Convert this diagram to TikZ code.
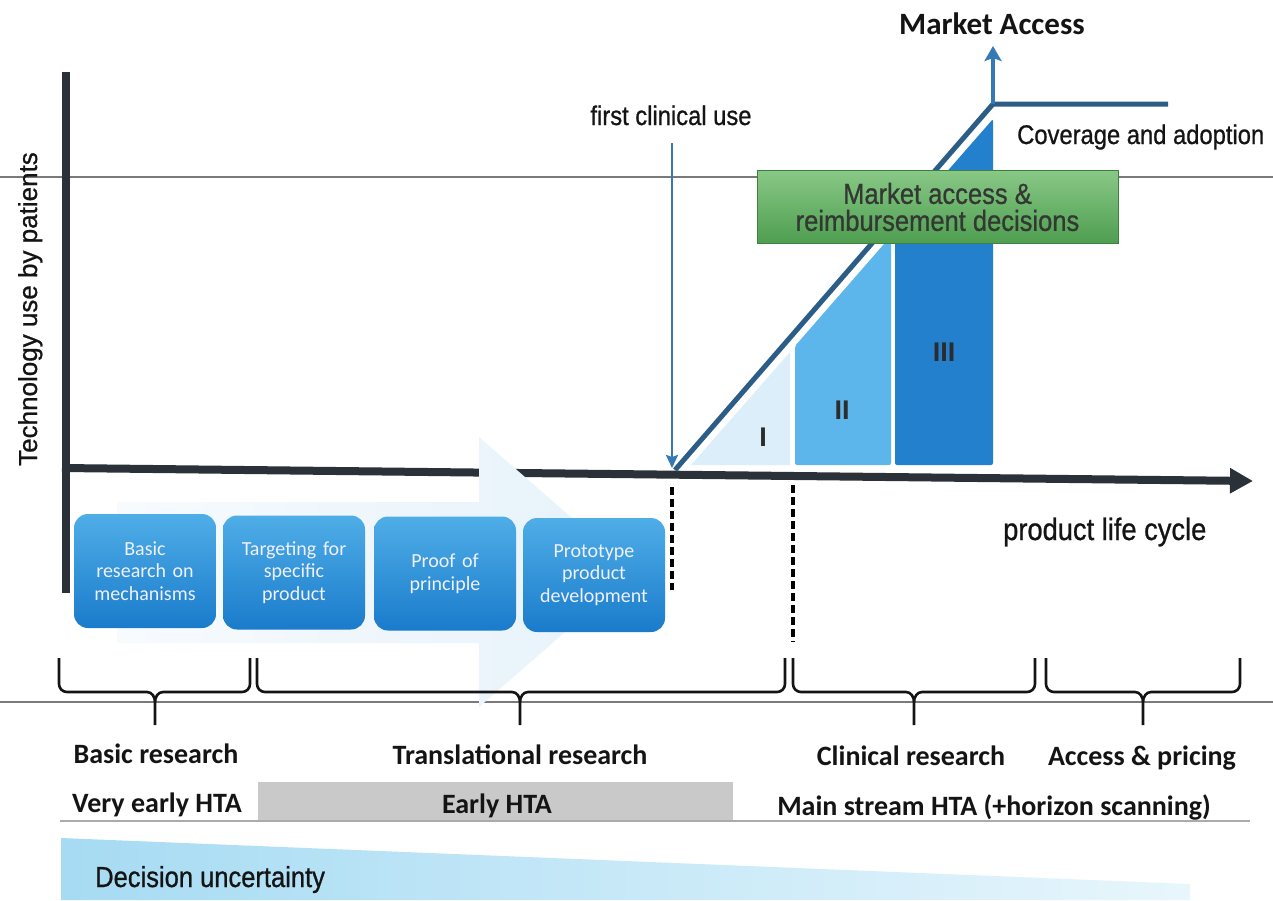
\documentclass[tikz,border=0pt]{standalone}
\usepackage{fontspec}
\setmainfont{Liberation Sans}
\newfontfamily\calfont{Carlito}
\newfontfamily\arialnarrow[FakeStretch=0.88, FakeBold=0.8]{Liberation Sans}
\newfontfamily\arialheavy[FakeBold=0.8]{Liberation Sans}
\usetikzlibrary{arrows.meta}

\definecolor{axisdark}{HTML}{2B3138}
\definecolor{steel}{HTML}{2C5D87}
\definecolor{arrowblue}{HTML}{3579B5}
\definecolor{phaseI}{HTML}{DCEEFA}
\definecolor{phaseII}{HTML}{5CB5EB}
\definecolor{phaseIII}{HTML}{2280CD}
\definecolor{boxtop}{HTML}{4FAEE7}
\definecolor{boxbot}{HTML}{1A7BCB}
\definecolor{greentop}{HTML}{88C886}
\definecolor{greenbot}{HTML}{4E9E50}
\definecolor{greenedge}{HTML}{3F7F40}
\definecolor{flowL}{HTML}{F7FBFE}
\definecolor{flowR}{HTML}{E6F2FA}
\definecolor{wedgeL}{HTML}{A6DBF3}
\definecolor{wedgeR}{HTML}{E8F6FC}
\definecolor{htagray}{HTML}{C9C9C9}
\definecolor{guidegray}{HTML}{7A7A7A}
\definecolor{inkdark}{HTML}{141414}
\definecolor{greentext}{HTML}{333833}

% curly bracket: left end, right end, tip position
\newcommand{\stagebracket}[3]{%
  \draw[bracket] (#1,658) -- (#1,684) to[out=-90,in=180] (#1+8,692) -- (#3-8,692)
    to[out=0,in=90] (#3,702) -- (#3,725);
  \draw[bracket] (#3,702) to[out=90,in=180] (#3+8,692) -- (#2-8,692)
    to[out=0,in=-90] (#2,684) -- (#2,658);}

\begin{document}
\begin{tikzpicture}[x=1pt,y=-1pt,
  guide/.style={draw=guidegray, line width=1.2pt},
  axisline/.style={draw=axisdark, line width=8pt},
  curve/.style={draw=steel, line width=5pt, line join=miter},
  uparrow/.style={draw=arrowblue, line width=4pt, -{Stealth[length=15pt,width=17pt,inset=3pt]}},
  fcuarrow/.style={draw=arrowblue, line width=2.2pt, -{Stealth[length=13pt,width=12pt,inset=2pt]}},
  dashline/.style={draw=black, line width=4pt, dash pattern=on 8pt off 4pt},
  bracket/.style={draw=inkdark, line width=2.6pt, line join=round},
  stagebox/.style={rounded corners=14pt, top color=boxtop, bottom color=boxbot,
    minimum width=142pt, minimum height=114pt, text width=138pt, align=center,
    text=white!94!blue, font=\calfont\fontsize{20}{22.5}\selectfont, inner sep=0pt},
  greenbox/.style={draw=greenedge, line width=0.8pt, top color=greentop, bottom color=greenbot,
    minimum width=361pt, minimum height=73pt, align=center, text=greentext,
    font=\arialnarrow\fontsize{29}{27}\selectfont, inner sep=0pt},
  arialtxt/.style={text=inkdark, inner sep=0pt, font=\arialnarrow\fontsize{27}{30}\selectfont},
  callbl/.style={text=inkdark, inner sep=0pt, font=\calfont\bfseries\fontsize{28}{30}\selectfont},
  phaselbl/.style={text=inkdark!90!white, inner sep=0pt, font=\bfseries\fontsize{27}{27}\selectfont},
]
\useasboundingbox (0,0) rectangle (1273,900);
\fill[white] (0,0) rectangle (1273,900);

% horizontal guide rules
\draw[guide] (0,177) -- (1273,177);
\draw[guide] (0,702) -- (1273,702);

% decision uncertainty wedge
\shade[left color=wedgeL, right color=wedgeR] (61,838) -- (1190,884) -- (1190,900) -- (61,900) -- cycle;
\node[arialtxt, anchor=base west, font=\arialnarrow\fontsize{29}{30}\selectfont] (uncert) at (95,887) {Decision uncertainty};

% clinical trial phases under the adoption curve
\fill[phaseI] (691,465) -- (790,352) -- (790,465) -- cycle;
\fill[phaseII, rounded corners=2pt] (795,465) -- (795,346) -- (891,236) -- (891,465) -- cycle;
\fill[phaseIII, rounded corners=2pt] (895,465) -- (895,231) -- (993,119) -- (993,465) -- cycle;

% axes
\coordinate (yTop) at (66,72);
\coordinate (yBot) at (66,593);
\draw[axisline] (yTop) -- (yBot);
\coordinate (xStart) at (62,468);
\coordinate (xEnd) at (1253,481);
\draw[axisline, -{Triangle[length=23pt,width=24pt]}] (xStart) -- (xEnd);

% broad development-flow arrow behind the stages
\shade[left color=flowL, right color=flowR]
  (117,502) -- (479,502) -- (479,437) -- (634,572) -- (479,707) -- (479,643) -- (117,643) -- cycle;

% development stages
\node[stagebox] (s1) at (145,571) {Basic\\research on\\mechanisms};
\node[stagebox] (s2) at (294,572.5) {Targeting for\\specific\\product};
\node[stagebox] (s3) at (445,573.5) {Proof of\\principle};
\node[stagebox] (s4) at (594,575) {Prototype\\product\\development};

% dashed markers below the axis
\coordinate (dashAtop) at (672,487);
\coordinate (dashAbot) at (672,590);
\coordinate (dashBtop) at (793,485);
\coordinate (dashBbot) at (793,642);
\draw[dashline] (dashAtop) -- (dashAbot);
\draw[dashline] (dashBtop) -- (dashBbot);

% adoption curve and market access arrow
\coordinate (launch) at (675,470);
\coordinate (peak) at (993,104);
\coordinate (plateauEnd) at (1168,104);
\coordinate (maTip) at (993,46);
\draw[curve] (launch) -- (peak) -- (plateauEnd);
\draw[uparrow] (peak) -- (maTip);
\node[callbl, anchor=base, font=\calfont\bfseries\fontsize{31}{32}\selectfont] (maTitle) at (992,34) {Market Access};

% first clinical use marker
\node[arialtxt, anchor=base] (fcu) at (671,125) {first clinical use};
\coordinate (fcuStart) at (672,143);
\coordinate (fcuHit) at (672,468);
\draw[fcuarrow] (fcuStart) -- (fcuHit);

% phase numerals
\node[phaselbl] (pI) at (763,437) {I};
\node[phaselbl] (pII) at (842,410) {II};
\node[phaselbl] (pIII) at (944,352) {III};

% reimbursement decision box
\node[greenbox] (decision) at (937.5,207) {Market access \&\\reimbursement decisions};

% curve annotations
\node[arialtxt, anchor=base west] (coverage) at (1017,144) {Coverage and adoption};
\node[arialtxt, anchor=base west, font=\arialnarrow\fontsize{31}{32}\selectfont] (plc) at (1003,540) {product life cycle};
\node[text=inkdark, inner sep=0pt, rotate=90, anchor=base, font=\arialheavy\fontsize{26}{28}\selectfont] (yLabel) at (37,309) {Technology use by patients};

% brackets grouping the research stages
\stagebracket{59}{250}{155}
\stagebracket{257}{785}{520}
\stagebracket{793}{1035}{914}
\stagebracket{1046}{1240}{1143}

\node[callbl, anchor=base] (basicLbl) at (156,763) {Basic research};
\node[callbl, anchor=base] (transLbl) at (520,764) {Translational research};
\node[callbl, anchor=base] (clinLbl) at (911,765) {Clinical research};
\node[callbl, anchor=base] (accessLbl) at (1142,765) {Access \& pricing};

% HTA row
\fill[htagray] (258,782) rectangle (733,820);
\draw[draw=htagray!85!black, line width=2pt] (60,821) -- (1250,821);
\node[callbl, anchor=base] (veryEarly) at (157,812) {Very early HTA};
\node[callbl, anchor=base] (early) at (497,813) {Early HTA};
\node[callbl, anchor=base] (mainHTA) at (994,815) {Main stream HTA (+horizon scanning)};
\end{tikzpicture}
\end{document}
